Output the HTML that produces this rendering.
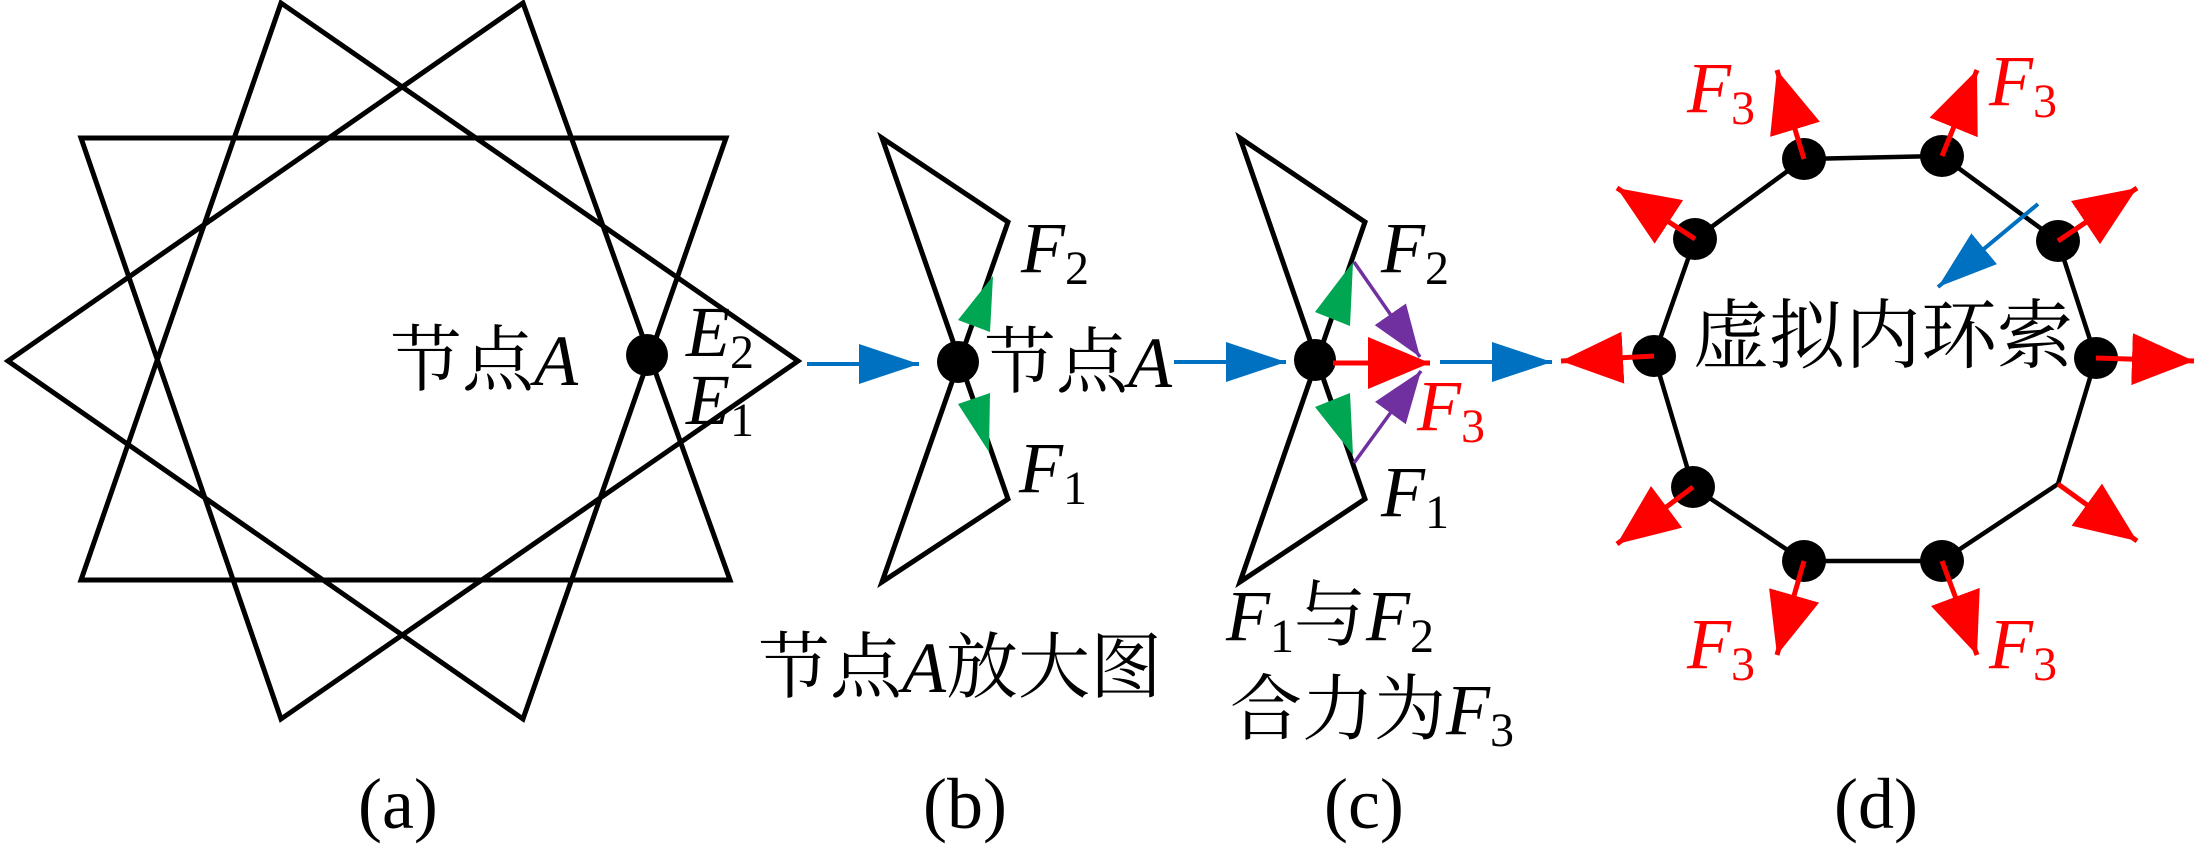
<!DOCTYPE html>
<html><head><meta charset="utf-8"><style>
html,body{margin:0;padding:0;background:#fff;}
svg{display:block;}
text{font-family:"Liberation Serif","Noto Serif CJK SC","Noto Sans CJK SC",serif;}
.it{font-style:italic;}
</style></head><body>
<svg width="2195" height="858" viewBox="0 0 2195 858" xmlns="http://www.w3.org/2000/svg">
<defs>
<marker id="mr" markerUnits="userSpaceOnUse" markerWidth="66" markerHeight="60" refX="62" refY="30" orient="auto"><path d="M0,4 L62,30 L0,56z" fill="#ff0000"/></marker>
<marker id="mb" markerUnits="userSpaceOnUse" markerWidth="64" markerHeight="44" refX="60" refY="22" orient="auto"><path d="M0,2 L60,22 L0,42z" fill="#0070c0"/></marker>
<marker id="mp" markerUnits="userSpaceOnUse" markerWidth="56" markerHeight="44" refX="52" refY="22" orient="auto"><path d="M0,3 L52,22 L0,41z" fill="#7030a0"/></marker>
</defs>
<g fill="none" stroke="#000" stroke-width="5" stroke-linejoin="miter">
<polygon points="281,3 798,361 281,719 81,138 726,138 523,719 8,361 523,3 730,580 81,580"/>
<polygon points="882,138 1008,222 882,582 1008,499"/>
<polygon points="1240,138 1365,222 1240,582 1365,499"/>
<polygon points="1804,159 1942,156 2058,241 2096,358 2058,484 1942,561 1804,561 1693,487 1654,356 1695,239" stroke-width="4.5"/>
</g>
<g fill="#000">
<circle cx="647" cy="355" r="21"/>
<circle cx="958" cy="362" r="21"/>
<circle cx="1315" cy="360" r="21"/>
<ellipse cx="1804" cy="159" rx="22" ry="21"/>
<ellipse cx="1942" cy="156" rx="22" ry="21"/>
<ellipse cx="2058" cy="241" rx="22" ry="21"/>
<ellipse cx="2096" cy="358" rx="22" ry="21"/>
<ellipse cx="1942" cy="561" rx="22" ry="21"/>
<ellipse cx="1804" cy="561" rx="22" ry="21"/>
<ellipse cx="1693" cy="487" rx="22" ry="21"/>
<ellipse cx="1654" cy="356" rx="22" ry="21"/>
<ellipse cx="1695" cy="239" rx="22" ry="21"/>
</g>
<g stroke="#0070c0" stroke-width="4" fill="none">
<line x1="807" y1="364" x2="919" y2="364" marker-end="url(#mb)"/>
<line x1="1174" y1="362" x2="1286" y2="362" marker-end="url(#mb)"/>
<line x1="1440" y1="362" x2="1552" y2="362" marker-end="url(#mb)"/>
<line x1="2038" y1="204" x2="1938" y2="287" marker-end="url(#mb)"/>
</g>
<g fill="#00a651">
<polygon points="993,276 958,320 990,332"/>
<polygon points="989,452 958,404 990,393"/>
<polygon points="1353,262 1315,312 1350,326"/>
<polygon points="1353,455 1315,407 1350,393"/>
</g>
<g stroke="#7030a0" stroke-width="3.5">
<line x1="1354" y1="262" x2="1420" y2="357" marker-end="url(#mp)"/>
<line x1="1354" y1="463" x2="1421" y2="371" marker-end="url(#mp)"/>
</g>
<g stroke="#ff0000" stroke-width="5">
<line x1="1333" y1="363" x2="1430" y2="363" marker-end="url(#mr)"/>
<line x1="1804" y1="159" x2="1777" y2="70" marker-end="url(#mr)"/>
<line x1="1942" y1="156" x2="1977" y2="70" marker-end="url(#mr)"/>
<line x1="2058" y1="241" x2="2137" y2="188" marker-end="url(#mr)"/>
<line x1="2096" y1="358" x2="2194" y2="361" marker-end="url(#mr)"/>
<line x1="2058" y1="484" x2="2137" y2="541" marker-end="url(#mr)"/>
<line x1="1942" y1="561" x2="1977" y2="655" marker-end="url(#mr)"/>
<line x1="1804" y1="561" x2="1777" y2="655" marker-end="url(#mr)"/>
<line x1="1693" y1="487" x2="1617" y2="544" marker-end="url(#mr)"/>
<line x1="1654" y1="356" x2="1561" y2="361" marker-end="url(#mr)"/>
<line x1="1695" y1="239" x2="1617" y2="188" marker-end="url(#mr)"/>
</g>
<g font-size="72" fill="#000">
<text x="390" y="385">节点<tspan class="it">A</tspan></text>
<text x="686" y="356" class="it">E<tspan font-size="48" dy="12" font-style="normal">2</tspan></text>
<text x="686" y="424" class="it">E<tspan font-size="48" dy="12" font-style="normal">1</tspan></text>
<text x="1021" y="272" class="it">F<tspan font-size="48" dy="12" font-style="normal">2</tspan></text>
<text x="1019" y="492" class="it">F<tspan font-size="48" dy="12" font-style="normal">1</tspan></text>
<text x="984" y="387">节点<tspan class="it">A</tspan></text>
<text x="758" y="692">节点<tspan class="it">A</tspan>放大图</text>
<text x="1381" y="272" class="it">F<tspan font-size="48" dy="12" font-style="normal">2</tspan></text>
<text x="1381" y="516" class="it">F<tspan font-size="48" dy="12" font-style="normal">1</tspan></text>
<text x="1226" y="640"><tspan class="it">F</tspan><tspan font-size="48" dy="12">1</tspan><tspan dy="-12">与</tspan><tspan class="it">F</tspan><tspan font-size="48" dy="12">2</tspan></text>
<text x="1230" y="734">合力为<tspan class="it">F</tspan><tspan font-size="48" dy="12">3</tspan></text>
<text x="1693" y="362" font-size="76">虚拟内环索</text>
<text x="358" y="828">(a)</text>
<text x="923" y="828">(b)</text>
<text x="1324" y="828">(c)</text>
<text x="1834" y="828">(d)</text>
</g>
<g font-size="72" fill="#ff0000">
<text x="1417" y="430" class="it">F<tspan font-size="48" dy="12" font-style="normal">3</tspan></text>
<text x="1687" y="112" class="it">F<tspan font-size="48" dy="12" font-style="normal">3</tspan></text>
<text x="1989" y="105" class="it">F<tspan font-size="48" dy="12" font-style="normal">3</tspan></text>
<text x="1687" y="668" class="it">F<tspan font-size="48" dy="12" font-style="normal">3</tspan></text>
<text x="1989" y="668" class="it">F<tspan font-size="48" dy="12" font-style="normal">3</tspan></text>
</g>
</svg>
</body></html>
